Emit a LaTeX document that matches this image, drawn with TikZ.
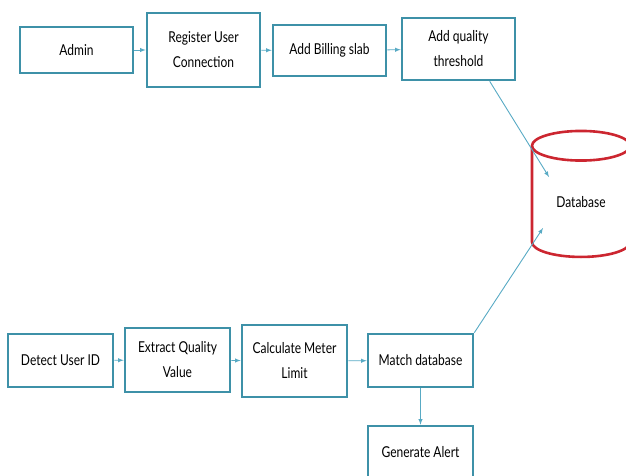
\documentclass[tikz,border=0pt]{standalone}
\usepackage{fontspec}
\setmainfont{Lato}[FakeStretch=0.8]
\usetikzlibrary{shapes.geometric}

\definecolor{boxteal}{RGB}{62,145,168}
\definecolor{arrteal}{RGB}{88,170,196}
\definecolor{dbred}{RGB}{204,38,48}

\begin{document}
\begin{tikzpicture}[x=1pt, y=-1pt,
	step box/.style={draw=boxteal, line width=2.6pt, fill=white, align=center,
		font=\fontsize{15}{25}\selectfont, inner sep=0pt},
	flow/.style={arrteal, line width=0.9pt, -latex},
	db/.style={cylinder, shape border rotate=90, draw=dbred, line width=2.6pt,
		aspect=0.6, minimum width=98, minimum height=126, inner sep=0pt,
		font=\fontsize{15}{25}\selectfont}]
	
	\useasboundingbox (0,0) rectangle (626,476);
	\clip (0,0) rectangle (626,476);
	
	% TOP ROW
	\node[step box, minimum width=113, minimum height=46] (admin)     at (76.5,50)  {Admin};
	\node[step box, minimum width=113, minimum height=74] (register)  at (203.5,50) {Register User\\Connection};
	\node[step box, minimum width=113, minimum height=51] (billing)   at (329.5,50.5) {Add Billing slab};
	\node[step box, minimum width=113, minimum height=62] (threshold) at (458.5,49) {Add quality\\threshold};
	
	\draw[flow] (admin) -- (register);
	\draw[flow] (register) -- (billing);
	\draw[flow] (billing) -- (threshold);
	
	% DATABASE
	\node[db] (db) at (581,202) {Database};
	\coordinate (dbin1) at (549,177);
	\coordinate (dbin2) at (543,228);
	
	\draw[flow] (threshold.-46) -- (dbin1);
	
	% BOTTOM ROW
	\node[step box, minimum width=105, minimum height=53] (detect)  at (60.5,360.5) {Detect User ID};
	\node[step box, minimum width=105, minimum height=64] (extract) at (177.5,360)  {Extract Quality\\Value};
	\node[step box, minimum width=105, minimum height=72] (meter)   at (294.5,361)  {Calculate Meter\\Limit};
	\node[step box, minimum width=105, minimum height=53] (match)   at (420.5,360.5) {Match database};
	\node[step box, minimum width=105, minimum height=53] (alert)   at (420.5,452.5) {Generate Alert};
	
	\draw[flow] (detect) -- (extract);
	\draw[flow] (extract) -- (meter);
	\draw[flow] (meter) -- (match);
	\draw[flow] (match.north east) -- (dbin2);
	\draw[flow] (match) -- (alert);
	
\end{tikzpicture}
\end{document}
